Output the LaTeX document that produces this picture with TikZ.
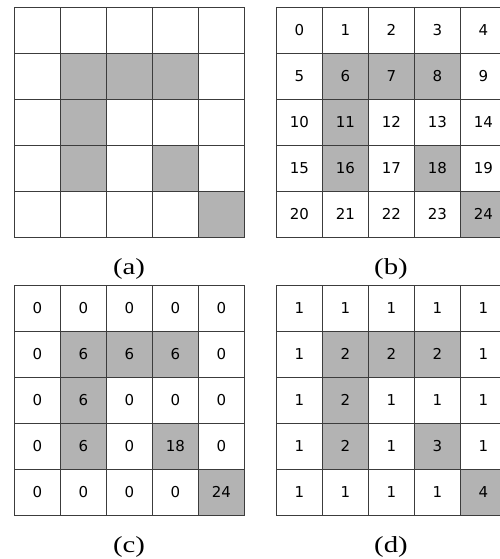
\documentclass[tikz,border=0pt]{standalone}
\usepackage{fontspec}
\newfontfamily\cellfont{DejaVu Sans}
\newfontfamily\capfont{Liberation Serif}
\usetikzlibrary{positioning}

\definecolor{shade}{RGB}{179,179,179}
\definecolor{gridline}{RGB}{60,60,60}

% one 5x5 grid of cells: name, left, top, values
\newcommand{\cellgrid}[4]{%
  \foreach \v [count=\i from 0] in {#4} {
    \pgfmathtruncatemacro\rr{\i/5}
    \pgfmathtruncatemacro\cc{mod(\i,5)}
    \pgfmathtruncatemacro\isdark{(\i==6)||(\i==7)||(\i==8)||(\i==11)||(\i==16)||(\i==18)||(\i==24)}
    \ifnum\isdark=1 \def\cellfill{shade}\else\def\cellfill{white}\fi
    \node[cell, fill=\cellfill] (#1-\rr-\cc) at (#2+46*\cc, #3+46*\rr) {\v};
  }%
}

\begin{document}
\begin{tikzpicture}[
    x=1pt, y=-1pt,
    cell/.style={rectangle, draw=gridline, line width=0.8pt, minimum size=46pt, inner sep=0pt, anchor=north west, font=\cellfont\fontsize{15}{17}\selectfont},
    caption/.style={anchor=base, xscale=1.25, transform shape, font=\capfont\fontsize{23}{25}\selectfont}
]
    \useasboundingbox (0,0) rectangle (500,559);
    \clip (0,0) rectangle (500,559);

    \cellgrid{a}{14}{7}{{},{},{},{},{},{},{},{},{},{},{},{},{},{},{},{},{},{},{},{},{},{},{},{},{}}
    \cellgrid{b}{276}{7}{0,1,2,3,4,5,6,7,8,9,10,11,12,13,14,15,16,17,18,19,20,21,22,23,24}
    \cellgrid{c}{14}{285}{0,0,0,0,0,0,6,6,6,0,0,6,0,0,0,0,6,0,18,0,0,0,0,0,24}
    \cellgrid{d}{276}{285}{1,1,1,1,1,1,2,2,2,1,1,2,1,1,1,1,2,1,3,1,1,1,1,1,4}

    \node (cap-a) [caption] at (129,274) {(a)};
    \node (cap-b) [caption] at (391,274) {(b)};
    \node (cap-c) [caption] at (129,552) {(c)};
    \node (cap-d) [caption] at (391,552) {(d)};

\end{tikzpicture}
\end{document}
